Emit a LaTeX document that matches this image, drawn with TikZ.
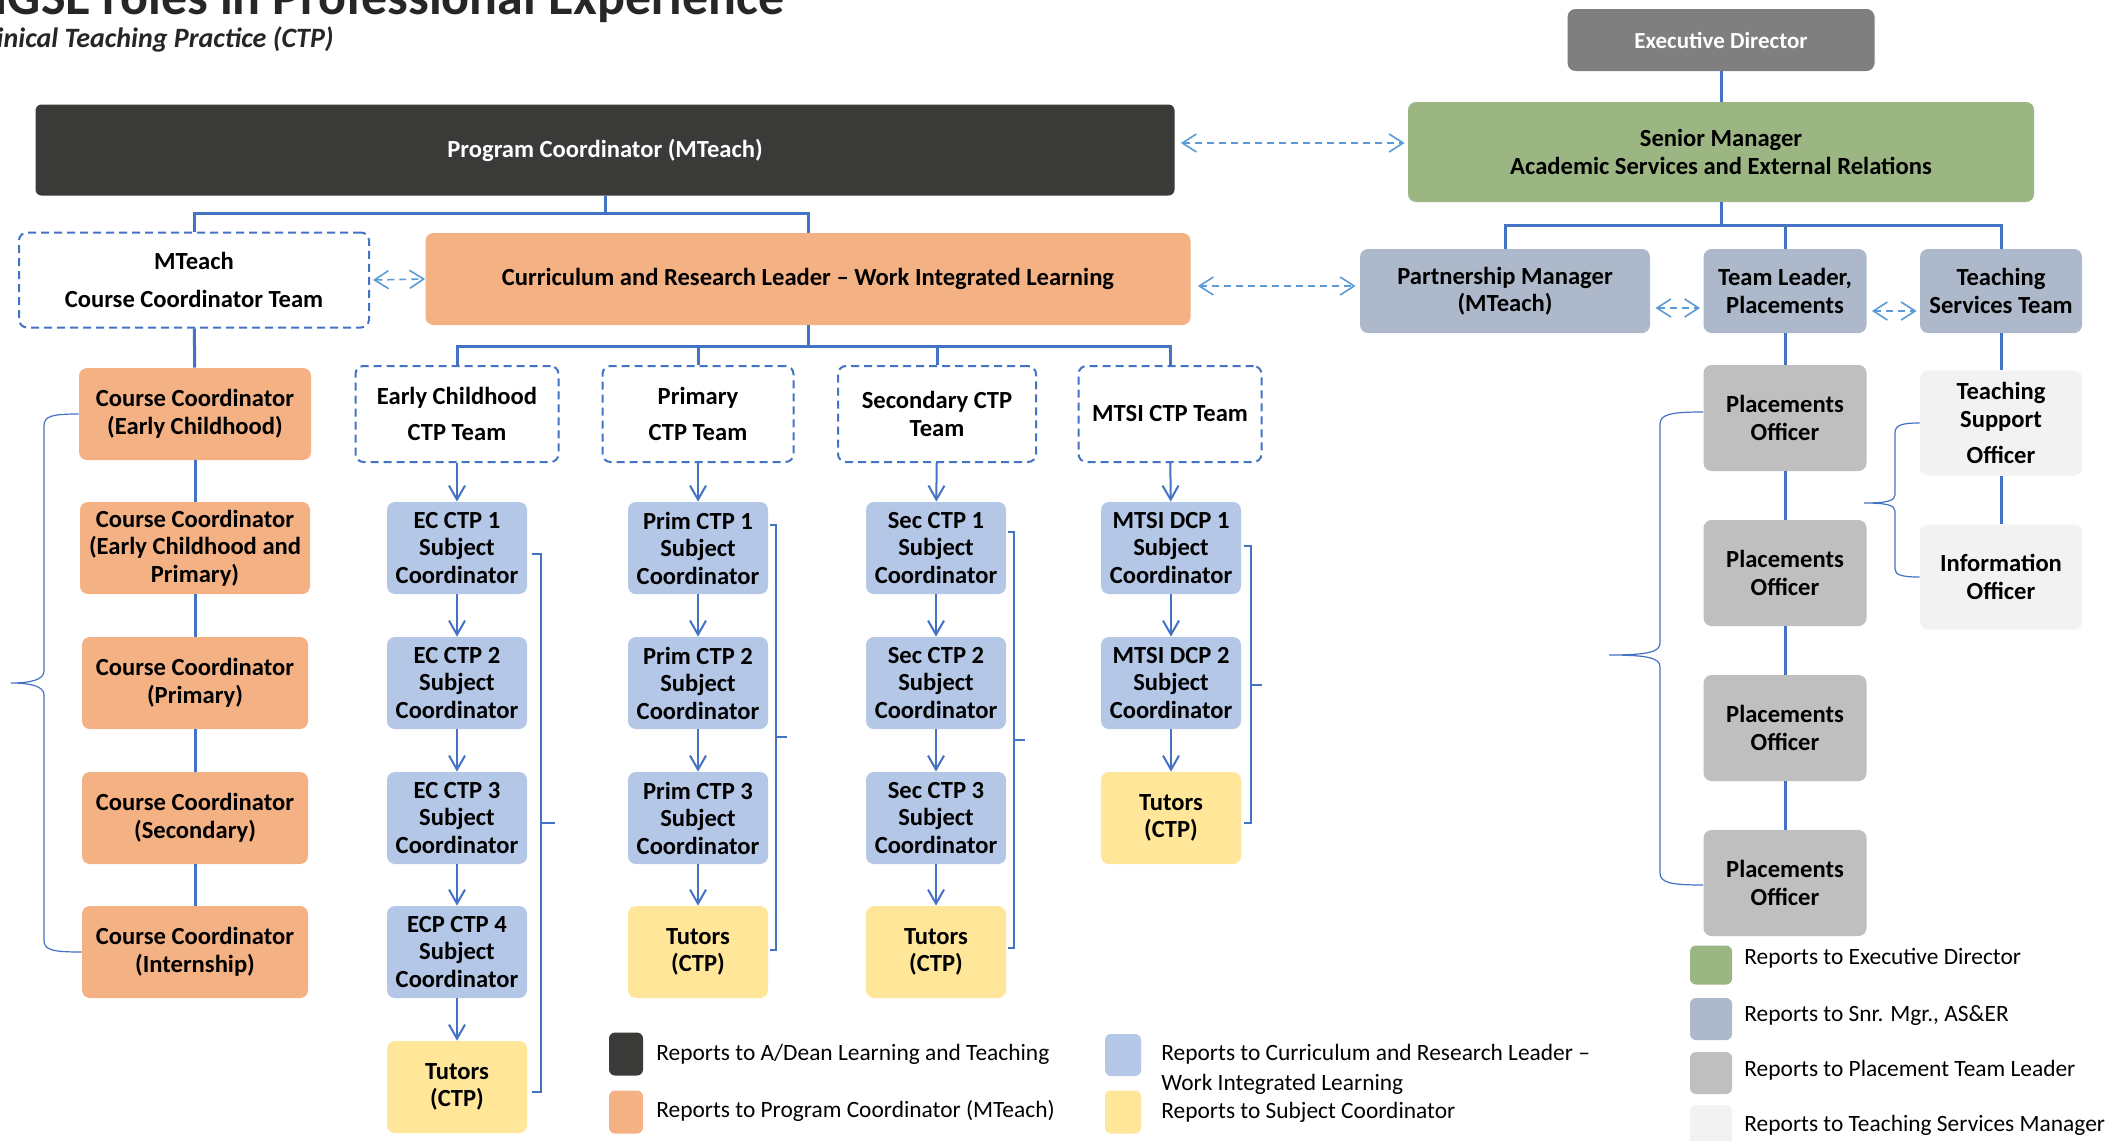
\documentclass[tikz,border=0pt]{standalone}
\usepackage{fontspec}
\setmainfont{Carlito}
\usetikzlibrary{arrows.meta,calc}
\definecolor{cDark}{HTML}{3A3A38}
\definecolor{cExec}{HTML}{7F7F7F}
\definecolor{cGreen}{HTML}{9BB583}
\definecolor{cOrange}{HTML}{F4B183}
\definecolor{cSlate}{HTML}{ADB9CA}
\definecolor{cBlue}{HTML}{B4C7E7}
\definecolor{cYellow}{HTML}{FFE699}
\definecolor{cGray}{HTML}{BFBFBF}
\definecolor{cLight}{HTML}{F2F2F2}
\definecolor{cLine}{HTML}{4472C4}
\definecolor{cDash}{HTML}{5B9BD5}
\newcommand{\bxfont}{\bfseries\fontsize{12.3}{13.75}\selectfont}
\newcommand{\lgfont}{\fontsize{11.7}{14}\selectfont}
\begin{document}
\begin{tikzpicture}[x=0.5pt,y=-0.5pt,
  box/.style={rounded corners=4pt, inner sep=2pt, align=center, font=\bxfont, text=black, draw=none},
  dbox/.style={box, draw=cLine, line width=1pt, dash pattern=on 4pt off 2.5pt},
  bbox/.style={box, fill=cBlue, minimum width=70pt, minimum height=46pt},
  ybox/.style={box, fill=cYellow, minimum width=70pt, minimum height=46pt},
  obox/.style={box, fill=cOrange, minimum height=46pt},
  pbox/.style={box, fill=cGray, minimum width=81.5pt, minimum height=53pt},
  lbox/.style={box, fill=cLight, minimum width=81pt, minimum height=52.5pt},
  teambox/.style={dbox, minimum height=48pt},
  conn/.style={draw=cLine, line width=1.5pt},
  arr/.style={draw=cLine, line width=1pt, -{Straight Barb[length=7pt,width=8pt]}},
  darr/.style={draw=cDash, line width=0.8pt, dash pattern=on 3.5pt off 2.5pt, {Straight Barb[length=7pt,width=9pt]}-{Straight Barb[length=7pt,width=9pt]}},
  brc/.style={draw=cLine, line width=0.6pt},
  sw/.style={rounded corners=3pt, inner sep=0pt},
  lt/.style={font=\lgfont, inner sep=0pt, anchor=mid west, text=black}
]
\useasboundingbox (0,0) rectangle (2112,1140);
\clip (0,0) rectangle (2112,1140);
\fill[white] (0,0) rectangle (2112,1140);

% titles
\node[anchor=base east, font=\bfseries\fontsize{26}{30}\selectfont, inner sep=0pt, text=black!85] (T1) at (785,14) {MGSE roles in Professional Experience};
\node[anchor=base east, font=\bfseries\itshape\fontsize{14}{17}\selectfont, inner sep=0pt, text=black!85] (T2) at (334,47) {Clinical Teaching Practice (CTP)};

% top level
\node[box, fill=cExec, text=white, minimum width=153.5pt, minimum height=31pt, font=\bfseries\fontsize{11.5}{13}\selectfont] (ED) at (1721,40) {Executive Director};
\node[box, fill=cDark, text=white, minimum width=569.5pt, minimum height=45.5pt, rounded corners=3pt] (PC) at (605,150) {Program Coordinator (MTeach)};
\node[box, fill=cGreen, minimum width=313pt, minimum height=50pt] (SM) at (1721,152) {Senior Manager\\Academic Services and External Relations};

% second level
\node[dbox, minimum width=175pt, minimum height=47.5pt] (MT) at (194,280) {MTeach\\[5pt]Course Coordinator Team};
\node[box, fill=cOrange, minimum width=382.5pt, minimum height=46pt] (CRL) at (808,279) {Curriculum and Research Leader – Work Integrated Learning};
\node[box, fill=cSlate, minimum width=145pt, minimum height=42pt] (PM) at (1505,291) {Partnership Manager\\(MTeach)};
\node[box, fill=cSlate, minimum width=81.5pt, minimum height=42pt] (TL) at (1785,291) {Team Leader,\\Placements};
\node[box, fill=cSlate, minimum width=81pt, minimum height=42pt] (TS) at (2001,291) {Teaching\\Services Team};

% team boxes
\node[teambox, minimum width=101.5pt] (ECT) at (457,414) {Early Childhood\\[4.5pt]CTP Team};
\node[teambox, minimum width=95.5pt] (PRT) at (698,414) {Primary\\[4.5pt]CTP Team};
\node[teambox, minimum width=99pt] (SCT) at (937,414) {Secondary CTP\\Team};
\node[teambox, minimum width=91.5pt] (MST) at (1170,414) {MTSI CTP Team};

% orange column
\node[obox, minimum width=116pt] (CC1) at (195,414) {Course Coordinator\\(Early Childhood)};
\node[obox, minimum width=115pt] (CC2) at (195,548) {Course Coordinator\\(Early Childhood and\\Primary)};
\node[obox, minimum width=113pt] (CC3) at (195,683) {Course Coordinator\\(Primary)};
\node[obox, minimum width=113pt] (CC4) at (195,818) {Course Coordinator\\(Secondary)};
\node[obox, minimum width=113pt] (CC5) at (195,952) {Course Coordinator\\(Internship)};

% EC column
\node[bbox] (EC1) at (457,548) {EC CTP 1\\Subject\\Coordinator};
\node[bbox] (EC2) at (457,683) {EC CTP 2\\Subject\\Coordinator};
\node[bbox] (EC3) at (457,818) {EC CTP 3\\Subject\\Coordinator};
\node[bbox] (EC4) at (457,952) {ECP CTP 4\\Subject\\Coordinator};
\node[ybox] (ECU) at (457,1087) {Tutors\\(CTP)};

% Primary column
\node[bbox] (PR1) at (698,548) {Prim CTP 1\\Subject\\Coordinator};
\node[bbox] (PR2) at (698,683) {Prim CTP 2\\Subject\\Coordinator};
\node[bbox] (PR3) at (698,818) {Prim CTP 3\\Subject\\Coordinator};
\node[ybox] (PRU) at (698,952) {Tutors\\(CTP)};

% Secondary column
\node[bbox] (SC1) at (936,548) {Sec CTP 1\\Subject\\Coordinator};
\node[bbox] (SC2) at (936,683) {Sec CTP 2\\Subject\\Coordinator};
\node[bbox] (SC3) at (936,818) {Sec CTP 3\\Subject\\Coordinator};
\node[ybox] (SCU) at (936,952) {Tutors\\(CTP)};

% MTSI column
\node[bbox] (MS1) at (1171,548) {MTSI DCP 1\\Subject\\Coordinator};
\node[bbox] (MS2) at (1171,683) {MTSI DCP 2\\Subject\\Coordinator};
\node[ybox] (MSU) at (1171,818) {Tutors\\(CTP)};

% placements
\node[pbox] (PO1) at (1785,418) {Placements\\Officer};
\node[pbox] (PO2) at (1785,573) {Placements\\Officer};
\node[pbox] (PO3) at (1785,728) {Placements\\Officer};
\node[pbox] (PO4) at (1785,883) {Placements\\Officer};
\node[lbox] (TSO) at (2001,423) {Teaching\\Support\\[4.5pt]Officer};
\node[lbox] (IO) at (2001,577) {Information\\Officer};

% connectors
\draw[conn] (ED) -- (SM);
\draw[conn] (PC.south) -- ++(0,18) -| (MT.north);
\draw[conn] (PC.south) -- ++(0,18) -| (CRL.north);
\draw[conn] (SM.south) -- ++(0,23) -| (PM.north);
\draw[conn] (SM.south) -- ++(0,23) -| (TL.north);
\draw[conn] (SM.south) -- ++(0,23) -| (TS.north);
\draw[conn] (CRL.south) -- ++(0,21) -| (ECT.north);
\draw[conn] (CRL.south) -- ++(0,21) -| (PRT.north);
\draw[conn] (CRL.south) -- ++(0,21) -| (SCT.north);
\draw[conn] (CRL.south) -- ++(0,21) -| (MST.north);
\draw[conn] (MT) -- (CC1);
\draw[conn] (CC1) -- (CC2);
\draw[conn] (CC2) -- (CC3);
\draw[conn] (CC3) -- (CC4);
\draw[conn] (CC4) -- (CC5);
\draw[conn] (TL) -- (PO1);
\draw[conn] (PO1) -- (PO2);
\draw[conn] (PO2) -- (PO3);
\draw[conn] (PO3) -- (PO4);
\draw[conn] (TS) -- (TSO);
\draw[conn] (TSO) -- (IO);

\draw[arr] (ECT) -- (EC1);
\draw[arr] (EC1) -- (EC2);
\draw[arr] (EC2) -- (EC3);
\draw[arr] (EC3) -- (EC4);
\draw[arr] (EC4) -- (ECU);
\draw[arr] (PRT) -- (PR1);
\draw[arr] (PR1) -- (PR2);
\draw[arr] (PR2) -- (PR3);
\draw[arr] (PR3) -- (PRU);
\draw[arr] (SCT) -- (SC1);
\draw[arr] (SC1) -- (SC2);
\draw[arr] (SC2) -- (SC3);
\draw[arr] (SC3) -- (SCU);
\draw[arr] (MST) -- (MS1);
\draw[arr] (MS1) -- (MS2);
\draw[arr] (MS2) -- (MSU);

% dashed double arrows
\draw[darr] ([xshift=3pt,yshift=3.5pt]PC.east) -- ([xshift=-1.5pt,yshift=4.5pt]SM.west);
\draw[darr] ([xshift=1.5pt]MT.east) -- (CRL.west);
\draw[darr] ([xshift=3.5pt,yshift=-3.5pt]CRL.east) -- ([xshift=-2pt,yshift=2.5pt]PM.west);
\draw[darr] ([xshift=2.5pt,yshift=-8.5pt]PM.east) -- ([xshift=-1.5pt,yshift=-8.5pt]TL.west);
\draw[darr] ([xshift=2.5pt,yshift=-10pt]TL.east) -- ([xshift=-1.5pt,yshift=-10pt]TS.west);

% braces
\draw[brc] (CC1.west) .. controls (52,414) and (44,416) .. (44,426) -- (44,671) .. controls (44,680) and (30,683) .. (11,683) .. controls (30,683) and (44,686) .. (44,695) -- (44,940) .. controls (44,950) and (52,952) .. (CC5.west);
\draw[brc] (532,554) -- (541,554) -- (541,1092) -- (532,1092) (541,823) -- (555,823);
\draw[brc] (770,525) -- (776,525) -- (776,950) -- (770,950) (776,737) -- (787,737);
\draw[brc] (1008,532) -- (1014,532) -- (1014,948) -- (1008,948) (1014,740) -- (1025,740);
\draw[brc] (1244,546) -- (1251,546) -- (1251,823) -- (1244,823) (1251,685) -- (1262,685);
\draw[brc] ([yshift=3pt]PO1.west) .. controls (1672,412) and (1660,414) .. (1660,424) -- (1660,643) .. controls (1660,652) and (1648,655) .. (1609,655) .. controls (1648,655) and (1660,658) .. (1660,667) -- (1660,873) .. controls (1660,883) and (1672,885) .. ([yshift=-1pt]PO4.west);
\draw[brc] (TSO.west) .. controls (1902,423) and (1895,425) .. (1895,433) -- (1895,495) .. controls (1895,501) and (1886,503) .. (1864,503) .. controls (1886,503) and (1895,505) .. (1895,511) -- (1895,569) .. controls (1895,575) and (1902,577) .. (IO.west);

% legend
\node[sw, fill=cDark, minimum width=17pt, minimum height=21.5pt] (LS1) at (626,1054) {};
\node[lt] (LT1) at (656,1056) {Reports to A/Dean Learning and Teaching};
\node[sw, fill=cOrange, minimum width=17pt, minimum height=21.5pt] (LS2) at (626,1112) {};
\node[lt] (LT2) at (656,1113) {Reports to Program Coordinator (MTeach)};
\node[sw, fill=cBlue, minimum width=18pt, minimum height=21pt] (LS3) at (1123,1055) {};
\node[lt] (LT3) at (1161,1056) {Reports to Curriculum and Research Leader –};
\node[lt] (LT3b) at (1161,1086) {Work Integrated Learning};
\node[sw, fill=cYellow, minimum width=18pt, minimum height=21.5pt] (LS4) at (1123,1112) {};
\node[lt] (LT4) at (1161,1114) {Reports to Subject Coordinator};
\node[sw, fill=cGreen, minimum width=21pt, minimum height=19.5pt] (LS5) at (1711,965) {};
\node[lt] (LT5) at (1744,960) {Reports to Executive Director};
\node[sw, fill=cSlate, minimum width=21pt, minimum height=21pt] (LS6) at (1711,1019) {};
\node[lt] (LT6) at (1744,1017) {Reports to Snr. Mgr., AS\&ER};
\node[sw, fill=cGray, minimum width=21pt, minimum height=21pt] (LS7) at (1711,1073) {};
\node[lt] (LT7) at (1744,1072) {Reports to Placement Team Leader};
\node[sw, fill=cLight, minimum width=21pt, minimum height=21pt] (LS8) at (1711,1126) {};
\node[lt] (LT8) at (1744,1127) {Reports to Teaching Services Manager};
\end{tikzpicture}
\end{document}
